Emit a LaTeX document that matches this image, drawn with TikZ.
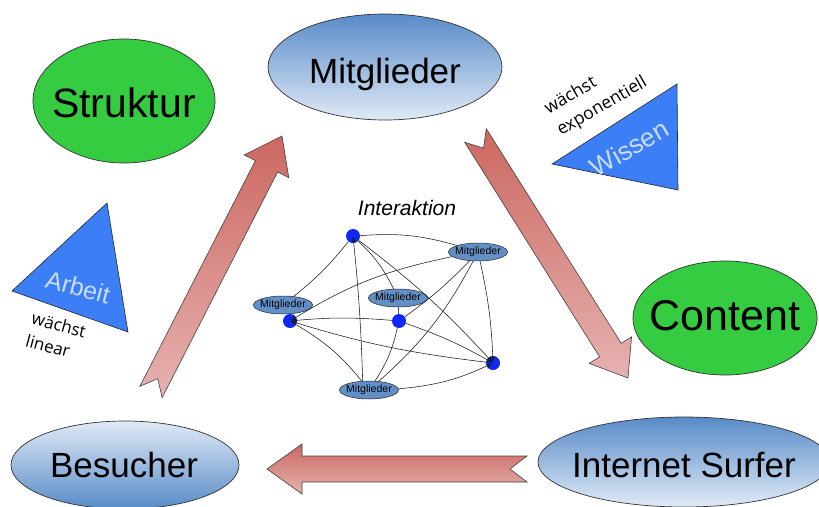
\documentclass[tikz,border=0pt]{standalone}
\usepackage{fontspec}
\setmainfont{Liberation Sans}
\newfontfamily\notefont{Open Sans}
\usetikzlibrary{arrows.meta,shapes.geometric}

\definecolor{ovalgreen}{RGB}{53,204,66}
\definecolor{ovaldark}{RGB}{88,139,200}
\definecolor{ovallight}{RGB}{224,234,246}
\definecolor{arrowdark}{RGB}{204,104,97}
\definecolor{arrowlight}{RGB}{230,178,176}
\definecolor{triblue}{RGB}{60,126,245}
\definecolor{tritext}{RGB}{200,221,248}
\definecolor{dotblue}{RGB}{16,40,245}
\definecolor{memberblue}{RGB}{98,144,198}

\begin{document}
\begin{tikzpicture}[x=1pt,y=-1pt,
  bigoval/.style={ellipse, draw=black!80, line width=0.7pt, inner sep=0pt},
  greenoval/.style={bigoval, fill=ovalgreen},
  blueoval/.style={bigoval, top color=ovaldark, bottom color=ovallight},
  blueovalup/.style={bigoval, top color=ovallight, bottom color=ovaldark},
  bigtext/.style={anchor=base, inner sep=0pt, font=\fontsize{35}{40}\selectfont},
  fatarrow/.style={draw=black!75, line width=0.6pt, line join=miter,
    top color=arrowdark, bottom color=arrowlight},
  tri/.style={draw=black!85, line width=0.6pt, fill=triblue},
  tritxt/.style={text=tritext, inner sep=0pt},
  note/.style={font=\notefont\fontsize{17}{23}\selectfont, align=left, inner sep=0pt},
  dot/.style={circle, fill=dotblue, minimum size=14pt, inner sep=0pt},
  member/.style={ellipse, draw=black!85, line width=0.5pt, fill=memberblue,
    minimum width=59pt, minimum height=18pt, inner xsep=-4pt, inner ysep=0pt,
    font=\fontsize{10.5}{12}\selectfont},
  link/.style={line width=0.55pt, black!90},
  tip/.style={-{Stealth[length=6pt,width=5pt,open]}, shorten >=1pt}
]
\useasboundingbox (0,0) rectangle (819,506);

% ---- big ovals, fixed size, captions set on their baselines ----
\node[blueoval, minimum width=234pt, minimum height=106pt] (mitglieder) at (385,67) {};
\node[greenoval, minimum width=182pt, minimum height=124pt] (struktur) at (124,101) {};
\node[greenoval, minimum width=184pt, minimum height=114pt] (content) at (725,318) {};
\node[blueovalup, minimum width=228pt, minimum height=88pt] (besucher) at (125,465) {};
\node[blueoval, minimum width=292pt, minimum height=90pt] (surfer) at (684,462) {};

\node[bigtext] (mitgliedertxt) at (385,83) {Mitglieder};
\node[bigtext, font=\fontsize{41}{46}\selectfont] (strukturtxt) at (124,117) {Struktur};
\node[bigtext, font=\fontsize{43}{48}\selectfont] (contenttxt) at (725,330) {Content};
\node[bigtext] (besuchertxt) at (124,477) {Besucher};
\node[bigtext] (surfertxt) at (684,477) {Internet Surfer};

% ---- fat arrows (growth cycle) ----
% up: Besucher -> Mitglieder
\draw[fatarrow] (139.9,386.3) -- (157.8,378.6) -- (162.1,397.7) -- (277.6,172.0)
  -- (288.8,177.7) -- (282,136) -- (244.2,154.9) -- (255.4,160.6) -- cycle;
% down: Mitglieder -> Internet Surfer
\draw[fatarrow] (464.7,142.3) -- (483.5,148.2) -- (486.3,128.7) -- (621.2,343.3)
  -- (631.6,336.8) -- (628,378) -- (589.2,363.4) -- (599.6,356.9) -- cycle;
% left: Internet Surfer -> Besucher
\draw[fatarrow] (527,456) -- (510,469) -- (527,482) -- (302,482)
  -- (302,494) -- (267,469) -- (302,444) -- (302,456) -- cycle;

% ---- triangles ----
\draw[tri] (107,203) -- (12,291) -- (128,332) -- cycle;
\node[tritxt, rotate=-15, font=\fontsize{25}{28}\selectfont] (arbeit) at (78,287) {Arbeit};
\node[note, rotate=-15] (linear) at (56,336) {wächst\\linear};

\draw[tri] (677,84) -- (552,164) -- (678,190) -- cycle;
\node[tritxt, rotate=30, font=\fontsize{26}{30}\selectfont] (wissen) at (629,148) {Wissen};
\node[note, rotate=30, font=\notefont\fontsize{17.5}{25}\selectfont] (expo) at (596,96) {wächst\\exponentiell};

% ---- interaction network ----
\node[font=\itshape\fontsize{21}{24}\selectfont] (interaktion) at (407,208) {Interaktion};

\node[member] (m1) at (478,252) {Mitglieder};
\node[member] (m2) at (283,305) {Mitglieder};
\node[member] (m3) at (398,298) {Mitglieder};
\node[member] (m4) at (369,390) {Mitglieder};

\node[dot] (a) at (353,236) {};
\node[dot] (b) at (290,321) {};
\node[dot] (c) at (399,321) {};
\node[dot] (d) at (493,363) {};

\draw[link] (m1) to[bend right=10] (a);
\draw[link] (a) to[bend left=6] (m2);
\draw[link, tip] (m4.125) to[bend right=2] (a.center);
\draw[link] (a) to[bend left=10] (m3);
\draw[link, tip] (a) to[bend left=5] (d.center);
\draw[link, tip] (m1) to[bend right=10] (b.center);
\draw[link] (m1) to[bend left=5] (c);
\draw[link] (m1) to[bend left=10] (m4);
\draw[link, tip] (m1) to[bend left=5] (d.center);
\draw[link, tip] (c) to[bend right=5] (b.center);
\draw[link, tip] (d) to[bend left=5] (b.center);
\draw[link] (b) to[bend left=10] (m4);
\draw[link] (c) to[bend left=10] (m4);
\draw[link, tip] (c) to[bend left=5] (d.center);
\draw[link, tip] (m4) to[bend right=10] (d.center);
\draw[link] (m3) -- (c);
\end{tikzpicture}
\end{document}
